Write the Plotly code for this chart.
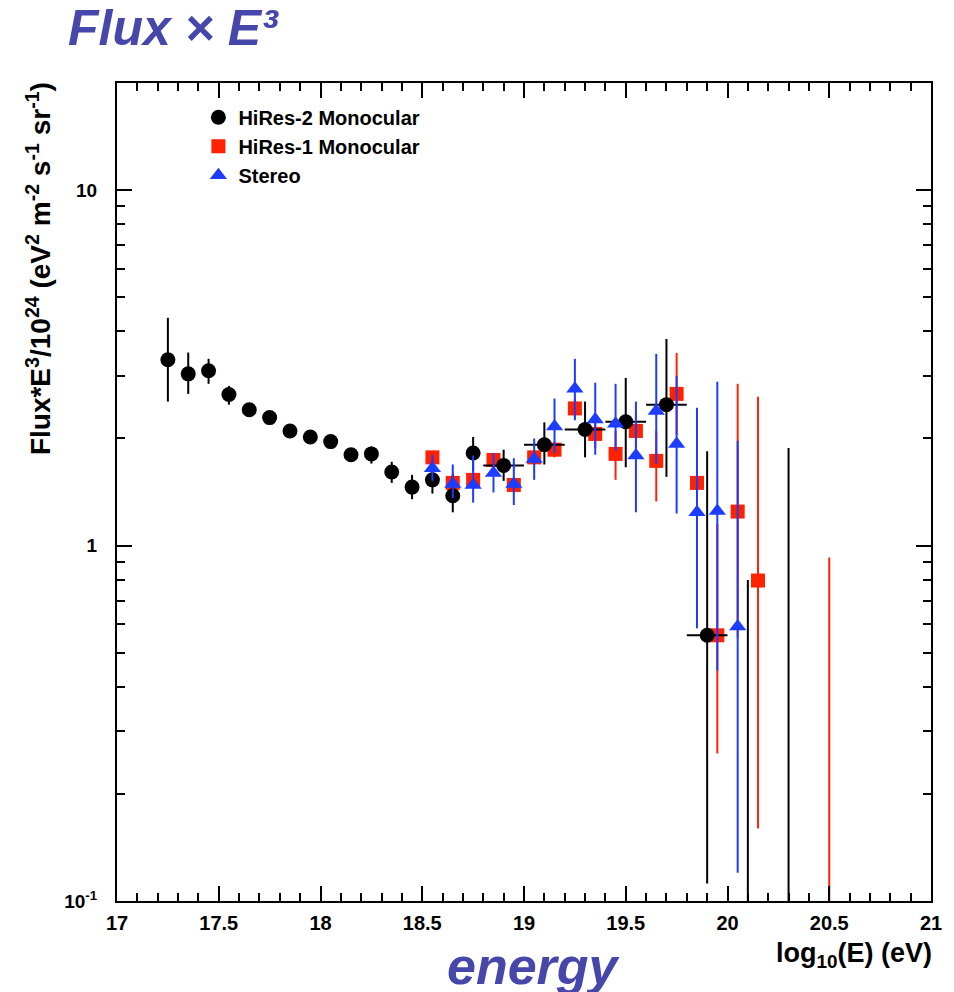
import plotly.graph_objects as go

# ---------------- data ----------------
# HiRes-2 Monocular (black circles)
hr2_x = [17.25, 17.35, 17.45, 17.55, 17.65, 17.75, 17.85, 17.95, 18.05, 18.15, 18.25,
         18.35, 18.45, 18.55, 18.65, 18.75, 18.9, 19.1, 19.3, 19.5, 19.7, 19.9]
hr2_y = [3.33, 3.04, 3.10, 2.66, 2.41, 2.29, 2.10, 2.02, 1.96, 1.80, 1.81,
         1.61, 1.46, 1.53, 1.38, 1.82, 1.68, 1.92, 2.12, 2.23, 2.49, 0.559]
hr2_hi = [4.37, 3.49, 3.35, 2.81, 2.48, 2.35, 2.16, 2.07, 2.01, 1.85, 1.90,
          1.72, 1.58, 1.70, 1.59, 2.02, 1.86, 2.22, 2.54, 2.96, 3.81, 1.84]
hr2_lo = [2.54, 2.67, 2.85, 2.49, 2.34, 2.23, 2.05, 1.97, 1.91, 1.75, 1.70,
          1.50, 1.35, 1.40, 1.24, 1.62, 1.52, 1.69, 1.77, 1.66, 1.56, 0.112]
hr2_xerr = [0, 0, 0, 0, 0, 0, 0, 0, 0, 0, 0,
            0, 0, 0, 0, 0, 0.1, 0.1, 0.1, 0.1, 0.1, 0.1]

# HiRes-1 Monocular (red squares)
hr1_x = [18.55, 18.65, 18.75, 18.85, 18.95, 19.05, 19.15, 19.25, 19.35, 19.45, 19.55,
         19.65, 19.75, 19.85, 19.95, 20.05, 20.15]
hr1_y = [1.77, 1.50, 1.53, 1.74, 1.48, 1.77, 1.86, 2.43, 2.06, 1.81, 2.10,
         1.73, 2.67, 1.50, 0.559, 1.246, 0.797]
hr1_hi = [1.84, 1.56, 1.59, 1.81, 1.54, 1.85, 1.96, 2.60, 2.25, 2.10, 2.35,
          2.10, 3.48, 1.95, 1.15, 2.85, 2.62]
hr1_lo = [1.70, 1.44, 1.47, 1.67, 1.42, 1.69, 1.77, 2.29, 1.88, 1.53, 1.87,
          1.33, 2.05, 1.15, 0.26, 0.55, 0.160]

# Stereo (blue triangles)
st_x = [18.55, 18.65, 18.75, 18.85, 18.95, 19.05, 19.15, 19.25, 19.35, 19.45, 19.55,
        19.65, 19.75, 19.85, 19.95, 20.05]
st_y = [1.65, 1.49, 1.48, 1.60, 1.49, 1.75, 2.16, 2.76, 2.26, 2.20, 1.79,
        2.39, 1.93, 1.24, 1.25, 0.592]
st_hi = [1.80, 1.69, 1.79, 1.82, 1.76, 2.00, 2.59, 3.35, 2.87, 2.85, 2.54,
         3.46, 3.00, 2.44, 2.89, 1.97]
st_lo = [1.52, 1.36, 1.32, 1.41, 1.30, 1.53, 1.82, 2.25, 1.80, 1.85, 1.24,
         1.70, 1.23, 0.585, 0.445, 0.12]

# bins with only an upper error (central value below the axis)
lim_hr2_x = [20.1, 20.3]
lim_hr2_top = [0.80, 1.88]
lim_hr1_x = [20.5]
lim_hr1_top = [0.925]
lim_floor = 0.01

BLACK = "#000000"
RED = "#ff2200"
BLUE = "#1c3cff"
TITLE_BLUE = "#4646ab"
FONT = "Liberation Sans"


def err(y, hi, lo):
    return [h - v for v, h in zip(y, hi)], [v - l for v, l in zip(y, lo)]


def segs(xs, tops):
    sx, sy = [], []
    for x, t in zip(xs, tops):
        sx += [x, x, None]
        sy += [t, lim_floor, None]
    return sx, sy


fig = go.Figure()

# limits (lines only)
lx, ly = segs(lim_hr1_x, lim_hr1_top)
fig.add_trace(go.Scatter(x=lx, y=ly, mode="lines", line=dict(color=RED, width=2),
                         showlegend=False, hoverinfo="skip"))
lx, ly = segs(lim_hr2_x, lim_hr2_top)
fig.add_trace(go.Scatter(x=lx, y=ly, mode="lines", line=dict(color=BLACK, width=2),
                         showlegend=False, hoverinfo="skip"))

p, m = err(hr1_y, hr1_hi, hr1_lo)
fig.add_trace(go.Scatter(
    x=hr1_x, y=hr1_y, mode="markers", name="HiRes-1 Monocular", legendrank=2,
    legendgroup="b",
    marker=dict(symbol="square", size=14, color=RED),
    error_y=dict(type="data", symmetric=False, array=p, arrayminus=m,
                 color=RED, thickness=2, width=0)))

p, m = err(hr2_y, hr2_hi, hr2_lo)
fig.add_trace(go.Scatter(
    x=hr2_x, y=hr2_y, mode="markers", name="HiRes-2 Monocular", legendrank=1,
    legendgroup="a",
    marker=dict(symbol="circle", size=15, color=BLACK),
    error_y=dict(type="data", symmetric=False, array=p, arrayminus=m,
                 color=BLACK, thickness=2, width=0),
    error_x=dict(type="data", array=hr2_xerr, color=BLACK, thickness=2, width=0)))

p, m = err(st_y, st_hi, st_lo)
fig.add_trace(go.Scatter(
    x=st_x, y=st_y, mode="markers", name="Stereo", legendrank=3,
    legendgroup="c",
    marker=dict(symbol="triangle-up", size=15, color=BLUE),
    error_y=dict(type="data", symmetric=False, array=p, arrayminus=m,
                 color=BLUE, thickness=2, width=0)))

y_minor = [0.2, 0.3, 0.4, 0.5, 0.6, 0.7, 0.8, 0.9, 2, 3, 4, 5, 6, 7, 8, 9, 20]

# the page body has an 8px margin: figure is sized/offset to compensate
fig.update_layout(
    width=946, height=984,
    margin=dict(l=109, r=17, t=75, b=91),
    paper_bgcolor="white", plot_bgcolor="white",
    font=dict(family=FONT, color="black"),
    showlegend=True,
    legend=dict(x=0.100, y=0.982, xanchor="left", yanchor="top",
                bgcolor="rgba(0,0,0,0)", tracegroupgap=0,
                font=dict(family=FONT, size=20, weight="bold", color="black")),
    xaxis=dict(range=[17, 21], dtick=0.5, tick0=17, showgrid=False, zeroline=False,
               showline=True, linecolor="black", linewidth=2, mirror="allticks",
               ticks="inside", ticklen=15, tickwidth=2, tickcolor="black",
               ticklabelstandoff=3,
               tickfont=dict(family=FONT, size=20, weight="bold"),
               minor=dict(dtick=0.1, tick0=17, ticks="inside", ticklen=8,
                          tickwidth=2, tickcolor="black", showgrid=False)),
    yaxis=dict(type="log", range=[-1, 1.301], showgrid=False, zeroline=False,
               showline=True, linecolor="black", linewidth=2, mirror="allticks",
               ticks="inside", ticklen=15, tickwidth=2, tickcolor="black",
               tickmode="array", tickvals=[0.1, 1, 10],
               ticktext=["10<sup>-1</sup>", "1", "10"],
               ticklabelstandoff=14,
               tickfont=dict(family=FONT, size=19, weight="bold"),
               minor=dict(tickmode="array", tickvals=y_minor, ticks="inside",
                          ticklen=8, tickwidth=2, tickcolor="black", showgrid=False)),
)

fig.add_annotation(
    text="Flux*E<sup>3</sup>/10<sup>24</sup> (eV<sup>2</sup> m<sup>-2</sup> s<sup>-1</sup> sr<sup>-1</sup>)",
    xref="paper", yref="paper", x=-0.096, y=1.004, xanchor="center", yanchor="top",
    textangle=-90, showarrow=False,
    font=dict(family=FONT, size=28, weight="bold", color="black"))

fig.add_annotation(
    text="log<sub>10</sub>(E) (eV)", xref="paper", yref="paper",
    x=1.004, y=-0.066, xanchor="right", yanchor="middle", showarrow=False,
    font=dict(family=FONT, size=27, weight="bold", color="black"))

fig.add_annotation(
    text="<i>Flux × E³</i>", xref="paper", yref="paper",
    x=-0.063, y=1.104, xanchor="left", yanchor="top", showarrow=False,
    font=dict(family=FONT, size=50, weight="bold", color=TITLE_BLUE))

fig.add_annotation(
    text="<i>energy</i>", xref="paper", yref="paper",
    x=0.403, y=-0.0416, xanchor="left", yanchor="top", showarrow=False,
    font=dict(family=FONT, size=52, weight="bold", color=TITLE_BLUE))

fig.write_html("out.html")
